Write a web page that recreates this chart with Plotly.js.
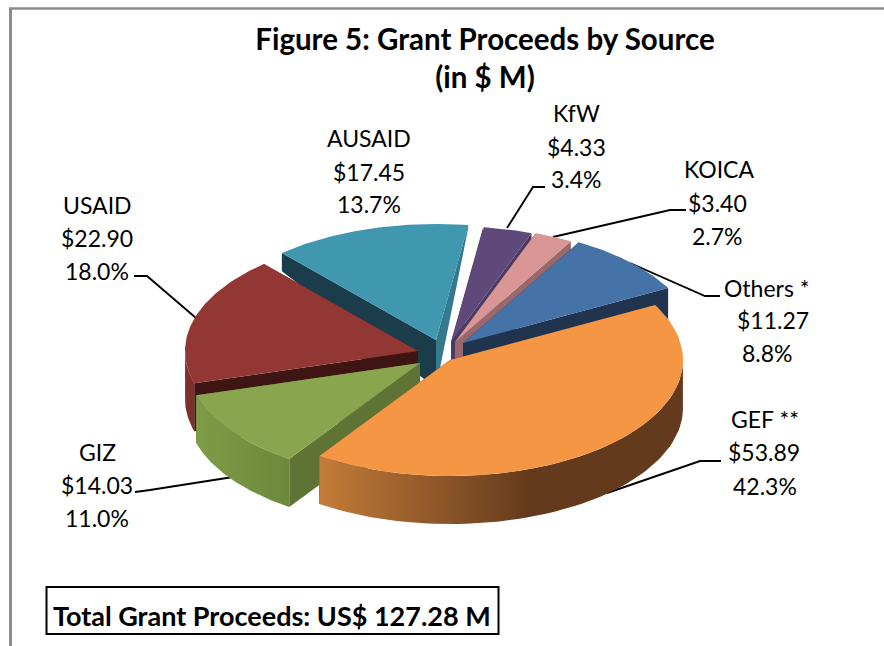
<!DOCTYPE html>
<html><head><meta charset="utf-8">
<script src="https://cdn.plot.ly/plotly-3.0.1.min.js"></script>
<style>html,body{margin:0;padding:0;background:#fff}#c{width:884px;height:646px}</style>
</head><body><div id="c"></div>
<script>
// ---- data ----
const sources = ["GEF **","GIZ","USAID","AUSAID","KfW","KOICA","Others *"];
const amounts = [53.89,14.03,22.90,17.45,4.33,3.40,11.27];
const shares  = ["42.3%","11.0%","18.0%","13.7%","3.4%","2.7%","8.8%"];
const titleText = "<b>Figure 5: Grant Proceeds by Source<br>(in $ M)</b>";
const totalText = "<b>Total Grant Proceeds: US$ 127.28 M</b>";

// ---- style ----
const topColors  = ["#F59645","#89A54E","#923734","#3F97B0","#5F497A","#D99694","#4572A7"];
const rimLeft    = ["#C27B38","#7E9C47","#7D2F2C","#34798C","#4B3A62","#98686A","#20344F"];
const rimRight   = ["#643A1C","#6B883C","#7D2F2C","#34798C","#4B3A62","#98686A","#20344F"];
const cutColors  = ["#643A1C","#5F7434","#3F1513","#1B3C4A","#4B3A62","#98686A","#20344F"];
const cutColors2 = ["#643A1C","#5F7434","#3F1513","#34798C","#4B3A62","#98686A","#20344F"];
const pullX = [10,-20,-22,-4,11,15,23];
const pullY = [10,13,1,-10,-8,-8,-7];
const drawOrder = [3,4,5,6,2,1,0];
const labelX = [[765,764,765],[97,97,97],[97,97,97],[369,369,369],[576,576,576],[719,717,717],[767,773,767]];
const labelY = [[419,452,486],[452,485,518],[205,238,271],[138,172,204],[113,147,179],[169,203,236],[288,320,353]];
const leaders = [
  [[721,461],[700,461],[607,493]],
  [[135,492],[150,490],[233,477]],
  [[134,276],[147,276],[196,318]],
  null,
  [[545,187],[533,187],[507,228]],
  [[686,210],[670,210],[553,237]],
  [[720,296],[705,296],[630,263]]
];
const startDeg = 61.7, cx = 440, cy = 350, ra = 233, rb = 116;
const font = "Lato, Carlito, sans-serif";

// ---- geometry from the values ----
const depth = y => Math.max(0, Math.min(48, (y - 220) * 0.55));
const total = amounts.reduce((a,b)=>a+b,0);
let acc = startDeg;
const spans = amounts.map(v => { const s = acc; acc += v/total*360; return [s, acc]; });
function arc(i, n){
  const [s,e] = spans[i], ax = cx+pullX[i], ay = cy+pullY[i], p=[];
  for(let k=0;k<=n;k++){ const t=(s+(e-s)*k/n)*Math.PI/180; p.push([ax+ra*Math.sin(t), ay-rb*Math.cos(t), Math.cos(t)]); }
  return p;
}
function poly(pts, fill, extra){
  return Object.assign({type:"scatter",mode:"lines",x:pts.map(p=>p[0]).concat(pts[0][0]),y:pts.map(p=>p[1]).concat(pts[0][1]),
    fill:"toself",fillcolor:fill,line:{width:0,color:fill},hoverinfo:"skip",showlegend:false},extra||{});
}
const down = p => [p[0], p[1]+depth(p[1])];
const traces = [];
drawOrder.forEach(i=>{
  const a = arc(i,80), apex=[cx+pullX[i],cy+pullY[i]], first=a[0], last=a[a.length-1];
  traces.push(poly([apex,last,down(last),down(apex)],cutColors2[i]));
  traces.push(poly([apex,first,down(first),down(apex)],cutColors[i]));
  const front = a.filter(p=>p[2]<0.03);
  if(front.length>1){
    const rim = front.concat(front.map(down).reverse());
    const grad = i===0 ? {type:"horizontal",start:322,stop:530,colorscale:[[0,rimLeft[i]],[1,rimRight[i]]]}
               : i===1 ? {type:"horizontal",start:198,stop:291,colorscale:[[0,rimLeft[i]],[1,rimRight[i]]]} : null;
    traces.push(poly(rim,rimLeft[i],grad?{fillgradient:grad}:{}));
  }
  traces.push(poly([apex].concat(a),topColors[i]));
});

const annotations = [];
sources.forEach((s,i)=>{
  [s,"$"+amounts[i].toFixed(2),shares[i]].forEach((t,j)=>{
    annotations.push({x:labelX[i][j],y:labelY[i][j],xref:"x",yref:"y",text:t,showarrow:false,
      xanchor:"center",yanchor:"middle",font:{family:font,size:23,color:"#000"}});
  });
});
annotations.push({x:272,y:615,xref:"x",yref:"y",text:totalText,showarrow:false,xanchor:"center",yanchor:"middle",
  font:{family:font,size:27,color:"#000"}});

const shapes = [
  {type:"line",x0:10.5,x1:10.5,y0:8,y1:646,line:{color:"#8C8C8C",width:3},layer:"below"},
  {type:"line",x0:9,x1:884,y0:8.5,y1:8.5,line:{color:"#8C8C8C",width:2.5},layer:"below"},
  {type:"rect",x0:46.5,x1:498.5,y0:587,y1:634,line:{color:"#000",width:2},fillcolor:"#fff",layer:"below"}
];
leaders.forEach(l=>{ if(l) shapes.push({type:"path",path:"M"+l.map(p=>p.join(",")).join("L"),line:{color:"#000",width:1.9},layer:"below"}); });

Plotly.newPlot("c",traces,{
  width:884,height:646,margin:{l:0,r:0,t:0,b:0},paper_bgcolor:"#fff",plot_bgcolor:"#fff",showlegend:false,
  title:{text:titleText,x:485/884,xanchor:"center",y:1-50/646,yanchor:"top",yref:"container",font:{family:font,size:29.5,color:"#000"}},
  xaxis:{range:[0,884],visible:false,fixedrange:true},
  yaxis:{range:[646,0],visible:false,fixedrange:true},
  annotations,shapes
},{staticPlot:true,displayModeBar:false});
</script></body></html>
